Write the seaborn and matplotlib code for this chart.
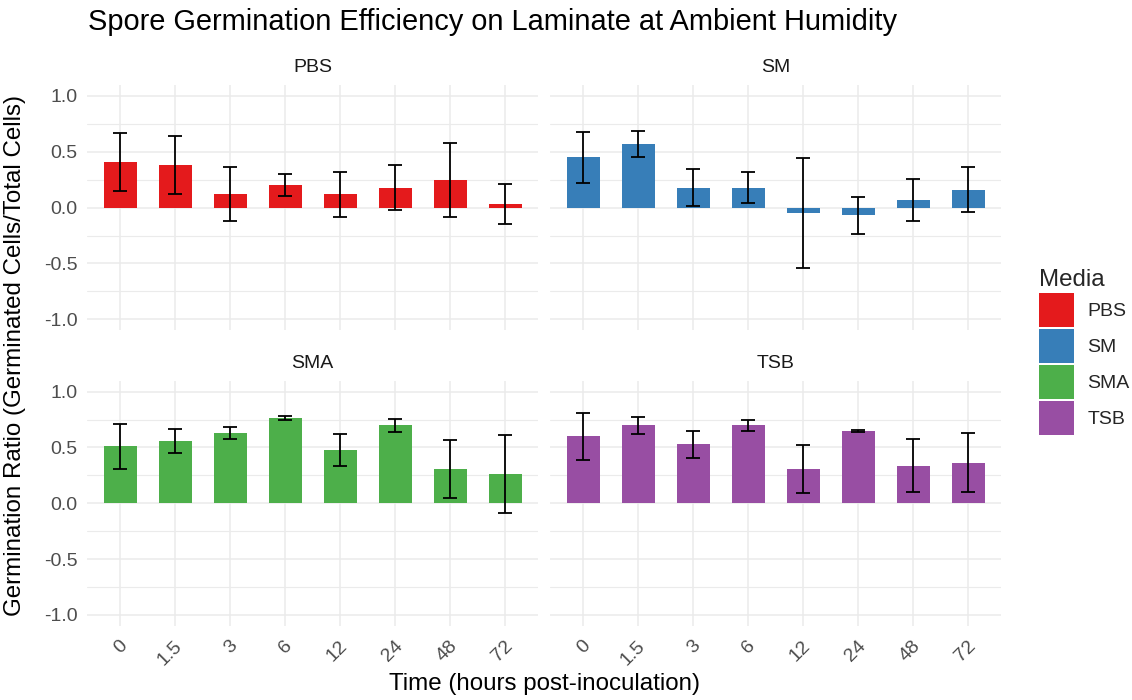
import matplotlib
matplotlib.use("Agg")
import matplotlib.pyplot as plt
import matplotlib.transforms as mtransforms
from matplotlib.patches import Patch
from matplotlib.ticker import MultipleLocator
import seaborn as sns
import pandas as pd

# valores
tiempos = ["0", "1.5", "3", "6", "12", "24", "48", "72"]
medios = ["PBS", "SM", "SMA", "TSB"]
colores = ["#E41A1C", "#377EB8", "#4DAF4A", "#984EA3"]

media_pbs = [0.41, 0.38, 0.12, 0.20, 0.12, 0.18, 0.25, 0.03]
error_pbs = [0.26, 0.26, 0.24, 0.10, 0.20, 0.20, 0.33, 0.18]
media_sm = [0.45, 0.57, 0.18, 0.18, -0.05, -0.07, 0.07, 0.16]
error_sm = [0.23, 0.12, 0.17, 0.14, 0.49, 0.165, 0.19, 0.20]
media_sma = [0.51, 0.56, 0.63, 0.76, 0.48, 0.70, 0.31, 0.26]
error_sma = [0.20, 0.11, 0.055, 0.018, 0.145, 0.057, 0.26, 0.35]
media_tsb = [0.60, 0.70, 0.53, 0.70, 0.31, 0.645, 0.335, 0.365]
error_tsb = [0.21, 0.075, 0.12, 0.05, 0.215, 0.01, 0.237, 0.264]

medias = [media_pbs, media_sm, media_sma, media_tsb]
errores = [error_pbs, error_sm, error_sma, error_tsb]

filas = []
for m, vals, errs in zip(medios, medias, errores):
    for t, v, e in zip(tiempos, vals, errs):
        filas.append({"Media": m, "Time": t, "Ratio": v, "SE": e})
df = pd.DataFrame(filas)

sns.set_theme(style="white")
plt.rcParams["font.family"] = ["Liberation Sans", "DejaVu Sans"]

fig = plt.figure(figsize=(11.32, 7.0), dpi=100)
fig.set_facecolor("white")

W, H = 1132, 700
posiciones = [
    (87, 84.8), (550, 84.8),
    (87, 380.5), (550, 380.5),
]
ancho, alto = 451, 245.6
t_chico = 14.0
t_medio = 17.4

gris = "#ebebeb"
desplaza = mtransforms.ScaledTranslation(11 / 100, 0, fig.dpi_scale_trans)
for i, (m, c) in enumerate(zip(medios, colores)):
    x0, y0 = posiciones[i]
    ax = fig.add_axes([x0 / W, 1 - (y0 + alto) / H, ancho / W, alto / H])
    sub = df[df["Media"] == m]
    sns.barplot(data=sub, x="Time", y="Ratio", order=tiempos, color=c,
                width=0.6, saturation=1, errorbar=None, linewidth=0, ax=ax)
    centros = [p.get_x() + p.get_width() / 2 for p in ax.patches]
    ax.errorbar(centros, sub["Ratio"], yerr=sub["SE"], fmt="none",
                ecolor="black", elinewidth=1.3, capsize=5, capthick=1.3, zorder=3)

    ax.set_xlim(-0.6, len(tiempos) - 0.4)
    ax.set_ylim(-1.1, 1.1)
    ax.yaxis.set_major_locator(MultipleLocator(0.5))
    ax.yaxis.set_minor_locator(MultipleLocator(0.25))
    ax.set_axisbelow(True)
    ax.grid(which="major", axis="both", color=gris, linewidth=1.1)
    ax.grid(which="minor", axis="y", color=gris, linewidth=0.8)
    for s in ax.spines.values():
        s.set_visible(False)
    ax.tick_params(which="both", length=0, colors="#4d4d4d", labelsize=t_chico)
    ax.tick_params(axis="y", pad=7)
    ax.tick_params(axis="x", pad=8)
    ax.set_xlabel("")
    ax.set_ylabel("")
    ax.set_yticks([-1.0, -0.5, 0.0, 0.5, 1.0])
    ax.set_yticklabels(["-1.0", "-0.5", "0.0", "0.5", "1.0"])
    if i < 2:
        ax.set_xticklabels([])
    else:
        for lab in ax.get_xticklabels():
            lab.set_rotation(45)
            lab.set_ha("right")
            lab.set_va("top")
            lab.set_transform(lab.get_transform() + desplaza)
    if i % 2 == 1:
        ax.set_yticklabels([])
    ax.text(0.5, 1 + 17 / alto, m, transform=ax.transAxes, ha="center",
            va="center", fontsize=t_chico, color="#1a1a1a")

fig.text(88 / W, 1 - 22 / H, "Spore Germination Efficiency on Laminate at Ambient Humidity",
         ha="left", va="center", fontsize=20.9, color="black")
fig.text(544.5 / W, 1 - 684 / H, "Time (hours post-inoculation)",
         ha="center", va="center", fontsize=t_medio, color="black")
fig.text(15 / W, 1 - 355 / H, "Germination Ratio (Germinated Cells/Total Cells)",
         ha="center", va="center", rotation=90, fontsize=t_medio, color="black")

handles = [Patch(facecolor=c, edgecolor="none") for c in colores]
leg = fig.legend(handles, medios, title="Media", loc="center left",
                 bbox_to_anchor=(1039 / W, 1 - 352 / H), frameon=False,
                 fontsize=t_chico, title_fontsize=t_medio, handlelength=1.8,
                 handleheight=2.3, labelspacing=0.12, handletextpad=0.7,
                 borderpad=0, borderaxespad=0)
leg._legend_box.align = "left"

fig.savefig("out.png", dpi=100, facecolor="white")
